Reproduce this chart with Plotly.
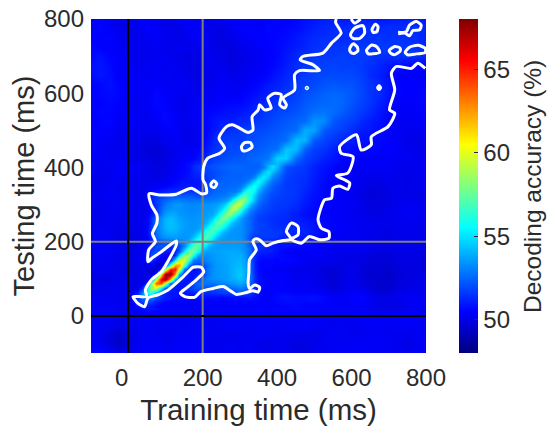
import plotly.graph_objects as go

times = [-100, -75, -50, -25, 0, 25, 50, 75, 100, 125, 150, 175, 200, 225, 250, 275, 300, 325, 350,
         375, 400, 425, 450, 475, 500, 525, 550, 575, 600, 625, 650, 675, 700, 725, 750, 775, 800]
testing_times = times[::-1]

accuracy = [
[50.3,50.5,50.2,50.0,50.1,50.3,50.4,50.2,50.0,50.1,50.4,50.3,50.1,50.0,50.2,50.3,50.5,50.4,50.3,50.5,50.6,50.4,50.6,50.8,50.9,51.1,51.1,50.9,51.0,51.1,51.0,50.9,51.0,51.1,51.0,51.0,50.9],
[50.4,50.6,50.3,50.1,50.0,50.2,50.5,50.3,50.1,50.0,50.2,50.4,50.2,50.1,50.0,50.2,50.4,50.5,50.4,50.6,50.5,50.6,50.7,50.9,51.1,51.2,51.3,51.3,51.4,51.3,51.5,51.3,51.4,51.3,51.5,51.4,51.1],
[50.5,50.4,50.6,50.2,50.1,50.1,50.3,50.4,50.2,50.1,50.1,50.3,50.3,50.0,49.9,50.0,50.3,50.4,50.5,50.5,50.6,50.7,50.9,51.1,51.3,51.4,51.4,51.3,51.3,51.4,51.4,51.5,51.4,51.5,51.4,51.3,51.1],
[50.6,50.5,50.4,50.3,50.2,50.3,50.1,50.3,50.1,50.2,50.2,50.1,50.2,50.1,49.9,49.9,50.1,50.2,50.4,50.5,50.6,50.8,51.0,51.2,51.4,51.5,51.5,51.5,51.6,51.6,51.5,51.6,51.6,51.5,51.6,51.5,51.3],
[50.6,50.8,50.5,50.4,50.2,50.1,50.2,50.2,50.3,50.1,50.0,50.0,50.2,50.2,50.0,49.8,50.0,50.1,50.3,50.4,50.6,50.9,51.2,51.4,51.5,51.6,51.6,51.7,51.6,51.7,51.5,51.4,51.4,51.5,51.4,51.4,51.2],
[50.8,50.9,50.6,50.4,50.3,50.2,50.3,50.3,50.2,50.3,50.1,49.9,50.1,50.2,50.2,49.9,50.0,50.2,50.3,50.5,50.7,51.0,51.3,51.5,51.7,51.7,51.8,51.7,51.7,51.6,51.4,51.2,50.9,50.7,50.6,50.6,50.6],
[50.7,50.9,50.7,50.3,50.4,50.3,50.2,50.4,50.3,50.2,50.2,50.0,50.0,50.1,50.3,50.1,50.1,50.3,50.4,50.6,50.9,51.2,51.4,51.6,51.8,51.9,51.9,51.9,51.9,51.7,51.3,51.1,50.7,50.5,50.5,50.4,50.4],
[50.5,50.6,50.8,50.5,50.3,50.4,50.4,50.4,50.2,50.3,50.3,50.1,50.1,50.2,50.4,50.3,50.2,50.4,50.6,50.9,51.1,51.4,51.6,51.8,51.9,52.1,52.2,52.1,52.1,51.8,51.5,51.2,50.8,50.5,50.5,50.5,50.5],
[50.4,50.6,50.7,50.6,50.4,50.3,50.3,50.6,50.4,50.3,50.2,50.2,50.2,50.3,50.4,50.3,50.4,50.6,50.8,51.1,51.3,51.5,51.7,52.0,52.2,52.4,52.5,52.4,52.2,51.9,51.5,51.3,50.8,50.6,50.4,50.5,50.6],
[50.5,50.5,50.6,50.5,50.3,50.2,50.4,50.6,50.5,50.2,50.1,50.2,50.4,50.4,50.5,50.6,50.6,50.8,51.1,51.3,51.5,51.7,51.9,52.2,52.4,52.5,52.6,52.5,52.1,51.8,51.5,51.1,50.7,50.5,50.4,50.5,50.6],
[50.4,50.6,50.5,50.4,50.4,50.3,50.2,50.5,50.6,50.3,50.1,50.3,50.5,50.6,50.7,50.8,50.9,51.1,51.4,51.6,51.8,51.9,52.1,52.4,52.7,52.8,52.6,52.3,51.9,51.6,51.3,50.9,50.6,50.4,50.3,50.4,50.5],
[50.3,50.5,50.6,50.3,50.4,50.3,50.2,50.3,50.6,50.4,50.2,50.3,50.5,50.8,51.0,51.0,51.2,51.3,51.6,51.8,52.0,52.2,52.4,52.6,53.4,53.2,52.2,51.9,51.7,51.3,51.0,50.8,50.5,50.3,50.3,50.4,50.4],
[50.4,50.5,50.5,50.2,50.3,50.2,50.1,50.2,50.4,50.4,50.1,50.1,50.4,50.8,51.2,51.4,51.6,51.8,51.9,52.0,52.2,52.4,52.6,53.9,53.7,52.2,51.9,51.7,51.3,51.0,50.9,50.7,50.5,50.3,50.2,50.2,50.3],
[50.5,50.4,50.3,50.1,50.2,50.1,49.9,49.9,50.2,50.3,50.1,50.1,50.5,51.1,51.6,51.7,51.7,51.9,52.1,52.3,52.4,52.7,54.2,54.0,52.2,51.8,51.5,51.2,51.0,50.8,50.7,50.6,50.5,50.3,50.1,50.0,50.2],
[50.5,50.3,50.2,50.2,50.1,50.0,49.8,49.7,49.9,50.2,50.3,50.3,50.7,51.3,51.6,51.9,51.9,52.1,52.3,52.5,52.7,54.4,54.2,52.3,51.7,51.5,51.1,50.8,50.7,50.6,50.6,50.5,50.5,50.4,50.2,50.1,50.2],
[50.4,50.3,50.2,50.3,50.2,50.0,49.9,49.8,49.9,50.2,50.4,50.5,51.0,51.6,51.9,52.1,52.2,52.4,52.6,52.8,54.6,54.6,52.6,51.8,51.5,51.1,50.9,50.6,50.5,50.5,50.4,50.4,50.4,50.3,50.3,50.2,50.3],
[50.3,50.2,50.3,50.4,50.3,50.3,50.1,49.9,50.0,50.3,50.6,51.2,51.8,52.1,52.3,52.5,52.5,52.4,52.4,54.1,54.0,52.0,51.7,51.5,51.1,50.8,50.6,50.4,50.3,50.3,50.3,50.3,50.3,50.2,50.1,50.2,50.3],
[50.2,50.1,50.2,50.3,50.2,50.2,50.1,50.0,50.1,50.4,50.7,51.0,51.4,52.0,52.4,52.7,53.0,53.3,54.4,55.8,52.6,51.7,51.5,51.4,51.0,50.7,50.5,50.3,50.3,50.2,50.1,50.1,50.2,50.1,50.0,50.1,50.3],
[50.2,50.1,50.3,50.2,50.1,50.2,50.2,50.3,50.5,50.9,51.3,51.7,51.9,52.3,52.7,53.0,53.5,54.6,56.2,56.4,52.0,51.6,51.5,51.3,50.9,50.6,50.5,50.4,50.3,50.1,49.9,49.9,50.1,50.1,50.0,50.1,50.2],
[50.3,50.2,50.4,50.2,50.1,50.2,50.5,50.8,51.4,52.0,52.2,52.4,52.5,52.8,53.2,54.0,55.2,56.9,57.3,55.0,51.8,51.6,51.5,51.1,50.8,50.6,50.5,50.3,50.2,50.0,49.8,49.8,50.0,50.1,50.1,50.0,50.1],
[50.3,50.1,50.2,50.3,50.2,50.3,50.6,51.4,52.2,53.0,53.2,53.1,53.2,53.4,54.0,55.5,58.1,58.0,55.4,53.2,51.6,51.5,51.3,50.9,50.7,50.5,50.4,50.4,50.3,50.1,49.9,49.9,50.0,50.2,50.3,50.2,50.1],
[50.2,50.1,50.2,50.2,50.1,50.2,50.5,51.5,52.6,53.3,53.4,53.0,53.1,53.7,55.1,57.5,58.4,56.0,53.7,52.3,51.4,51.3,51.0,50.7,50.6,50.5,50.4,50.3,50.2,50.1,50.0,50.0,50.1,50.2,50.3,50.3,50.2],
[50.1,50.2,50.2,50.1,50.1,50.1,50.4,51.3,52.5,53.5,53.4,53.2,53.5,54.6,56.9,57.8,56.0,53.9,52.7,52.0,51.3,51.2,51.1,51.0,50.8,50.6,50.5,50.4,50.3,50.2,50.2,50.1,50.1,50.2,50.2,50.1,50.1],
[50.2,50.3,50.2,50.0,50.0,50.1,50.3,50.7,51.9,53.0,53.6,53.8,54.6,56.5,57.3,56.0,54.2,53.0,52.3,51.8,51.6,51.4,51.2,51.2,50.9,50.6,50.4,50.3,50.3,50.2,50.1,50.1,50.0,50.1,50.2,50.1,50.0],
[50.3,50.4,50.2,50.0,49.9,50.0,50.2,50.3,50.7,51.9,53.5,54.9,56.6,56.8,55.4,54.2,53.5,52.8,52.0,51.4,50.8,50.9,50.8,50.7,50.6,50.4,50.3,50.2,50.2,50.3,50.1,50.0,50.0,50.0,50.1,50.0,50.0],
[50.2,50.4,50.3,50.1,50.0,50.0,50.1,50.0,50.6,52.0,55.2,57.1,57.0,55.0,54.0,53.6,53.4,52.8,51.5,50.9,50.7,50.5,50.4,50.4,50.4,50.3,50.2,50.1,50.1,50.1,50.0,49.9,49.9,50.0,50.0,50.0,49.9],
[50.1,50.3,50.2,50.1,50.0,50.0,49.8,49.5,50.8,55.0,59.5,59.8,56.6,54.4,53.6,53.5,53.7,53.0,51.3,50.7,50.6,50.6,50.5,50.3,50.2,50.2,50.1,50.0,50.0,49.9,49.8,49.7,49.8,49.9,50.0,49.9,49.8],
[50.0,50.2,50.1,50.0,50.0,49.8,49.3,50.5,56.5,66.0,63.3,57.3,54.5,53.6,53.4,53.4,54.0,53.5,51.5,50.5,50.4,50.3,50.1,50.1,50.0,49.8,49.7,49.9,50.1,49.8,49.6,49.7,49.5,49.8,49.9,49.9,49.8],
[49.8,50.0,50.0,50.1,50.1,49.9,50.2,56.0,67.5,63.0,55.6,52.9,52.8,53.0,53.3,53.5,53.9,53.2,51.3,50.6,50.6,50.4,50.2,50.3,50.2,49.9,49.6,50.0,50.1,49.8,49.6,49.6,49.5,49.8,49.9,50.0,50.1],
[50.0,50.1,50.1,50.2,50.1,50.0,54.2,61.5,60.0,54.0,52.0,51.3,51.3,51.6,51.9,52.2,52.9,52.6,51.0,50.6,50.5,50.4,50.3,50.3,50.2,50.0,49.8,50.0,50.2,50.1,49.8,49.6,49.6,49.9,50.0,50.1,50.2],
[50.2,50.3,50.2,50.2,50.0,50.7,53.6,54.0,52.5,51.3,50.9,50.7,50.8,50.7,50.6,50.7,50.7,50.8,50.6,50.5,50.7,50.8,50.7,50.7,50.8,50.6,50.4,50.4,50.5,50.6,50.3,50.0,50.1,50.2,50.3,50.3,50.3],
[50.3,50.4,50.3,50.2,50.1,50.5,50.9,50.8,50.5,50.4,50.3,50.3,50.3,50.4,50.3,50.4,50.4,50.4,50.5,50.4,50.5,50.5,50.6,50.5,50.5,50.4,50.4,50.3,50.4,50.4,50.2,50.0,49.9,50.0,50.2,50.3,50.3],
[50.2,50.3,50.3,50.2,50.1,50.2,50.3,50.3,50.3,50.2,50.2,50.3,50.2,50.3,50.3,50.3,50.4,50.4,50.4,50.3,50.4,50.3,50.4,50.4,50.4,50.3,50.3,50.2,50.3,50.4,50.3,50.3,50.4,50.4,50.4,50.3,50.3],
[50.3,50.3,50.2,50.0,50.1,50.3,50.4,50.2,50.3,50.3,50.2,50.3,50.2,50.2,50.3,50.4,50.3,50.3,50.3,50.4,50.3,50.4,50.4,50.5,50.3,50.3,50.2,50.3,50.2,50.3,50.4,50.4,50.3,50.3,50.4,50.3,50.2],
[50.4,50.2,49.8,49.5,49.9,50.2,50.3,50.2,50.1,50.2,50.3,50.3,50.3,50.2,50.2,50.1,50.2,50.2,50.3,50.3,50.2,50.2,50.1,50.1,50.0,50.2,50.3,50.3,50.2,50.2,50.3,50.3,50.2,50.2,50.1,50.3,50.3],
[50.5,50.2,49.8,49.4,49.9,50.3,50.4,50.4,50.2,50.4,50.4,50.4,50.3,50.1,50.2,50.3,50.2,50.3,50.1,50.0,50.2,50.1,49.9,49.9,50.2,50.3,50.3,50.3,50.3,50.4,50.3,50.4,50.3,50.1,50.0,50.2,50.3],
[50.6,50.8,50.4,50.2,50.2,50.3,50.3,50.4,50.3,50.3,50.5,50.4,50.5,50.3,50.2,50.3,50.2,50.3,50.2,50.1,50.2,50.2,50.0,49.9,50.1,50.2,50.3,50.4,50.3,50.4,50.3,50.2,50.3,50.3,50.2,50.3,50.4],
]
assert len(accuracy) == 37 and all(len(r) == 37 for r in accuracy), [len(r) for r in accuracy]

# finer reading of the diagonal part of the map (training and testing 25 to 400 ms)
detail_times = [25, 37.5, 50, 62.5, 75, 87.5, 100, 112.5, 125, 137.5, 150, 162.5, 175, 187.5, 200, 212.5,
                225, 237.5, 250, 262.5, 275, 287.5, 300, 312.5, 325, 337.5, 350, 362.5, 375, 387.5, 400]
detail_accuracy = [
[50.6,51.0,51.0,50.8,50.6,50.5,50.5,50.4,50.4,50.3,50.3,50.3,50.3,50.3,50.3,50.4,50.4,50.4,50.3,50.4,50.4,50.4,50.4,50.4,50.4,50.4,50.5,50.5,50.4,50.5,50.5],
[51.2,51.7,51.9,51.4,51.0,50.7,50.5,50.5,50.4,50.4,50.4,50.4,50.4,50.4,50.4,50.4,50.4,50.4,50.4,50.4,50.5,50.5,50.5,50.5,50.5,50.5,50.5,50.5,50.5,50.5,50.6],
[51.4,52.6,53.3,52.9,52.0,51.4,51.1,50.9,50.8,50.7,50.7,50.7,50.8,50.8,50.8,50.7,50.7,50.7,50.6,50.7,50.7,50.7,50.7,50.8,50.8,50.7,50.6,50.5,50.5,50.6,50.7],
[51.0,53.3,56.0,56.0,53.5,51.4,51.0,50.9,50.8,50.7,50.8,50.9,51.0,51.1,51.2,51.2,51.3,51.4,51.4,51.5,51.7,51.8,51.9,51.8,51.5,51.0,50.7,50.5,50.5,50.5,50.6],
[50.2,51.2,55.0,59.0,59.2,55.2,52.0,51.1,50.9,50.9,51.1,51.6,51.9,52.1,52.0,52.0,52.0,52.0,52.1,52.3,52.5,52.7,52.9,52.8,52.3,51.4,50.8,50.6,50.5,50.5,50.5],
[50.0,49.9,51.5,58.0,63.8,64.2,59.0,52.8,51.2,50.9,50.8,51.0,51.9,52.6,52.8,52.8,52.8,52.9,53.1,53.2,53.4,53.6,53.9,53.5,52.7,51.4,50.8,50.6,50.5,50.4,50.4],
[50.0,50.0,49.8,51.5,60.0,66.0,67.8,62.0,54.0,51.6,51.0,50.9,51.0,51.8,52.6,53.1,53.3,53.4,53.5,53.6,53.8,54.0,54.3,53.8,52.9,51.4,50.7,50.6,50.6,50.5,50.5],
[50.0,50.0,49.9,49.7,51.5,61.0,67.8,67.8,62.0,53.2,51.2,50.9,50.9,51.0,51.6,52.8,53.3,53.5,53.6,53.7,53.9,54.2,54.5,54.0,53.0,51.4,50.7,50.6,50.5,50.5,50.4],
[50.0,50.0,49.9,49.7,49.5,51.2,59.0,65.0,65.2,59.5,52.5,51.0,50.8,50.9,51.5,52.8,53.3,53.5,53.6,53.7,53.9,54.2,54.4,54.0,52.9,51.3,50.6,50.5,50.5,50.4,50.3],
[50.1,50.0,50.1,50.3,49.6,49.8,51.2,57.0,62.5,62.5,57.5,52.5,51.7,51.8,51.9,52.6,53.2,53.5,53.6,53.7,53.9,54.1,54.2,53.8,52.8,51.2,50.6,50.5,50.6,50.5,50.4],
[50.2,50.3,51.0,51.4,50.5,50.0,50.0,51.2,55.5,59.8,59.8,56.0,52.8,52.6,52.8,53.2,53.4,53.6,53.7,53.8,53.9,54.0,54.1,53.7,52.8,51.2,50.7,50.6,50.6,50.6,50.5],
[50.2,50.3,51.0,52.0,51.5,50.6,50.1,50.2,51.5,55.0,58.5,58.5,55.8,53.5,53.2,53.3,53.5,53.6,53.7,53.8,53.9,53.9,53.9,53.6,52.7,51.3,50.9,50.8,50.8,50.8,50.7],
[50.1,50.3,50.8,51.7,52.0,51.5,51.0,50.9,51.2,52.2,55.2,57.8,57.8,55.8,54.2,53.6,53.6,53.7,53.7,53.8,53.8,53.8,53.7,53.4,52.7,51.6,51.2,51.1,51.0,50.9,50.8],
[50.0,50.2,50.6,51.3,52.0,52.3,51.9,51.2,51.3,51.9,53.2,55.4,57.2,57.3,55.5,54.3,53.7,53.6,53.6,53.6,53.6,53.6,53.5,53.3,52.5,51.9,51.5,51.3,51.1,51.0,50.9],
[50.0,50.1,50.4,50.9,51.5,52.0,52.3,52.5,52.4,52.7,53.3,54.2,55.5,56.9,56.9,55.5,54.3,53.7,53.5,53.5,53.5,53.5,53.4,53.2,52.4,51.7,51.4,51.2,51.0,50.9,50.8],
[50.0,50.1,50.4,51.3,52.5,53.2,53.4,53.5,53.6,53.5,53.4,53.6,54.3,55.4,56.8,56.9,55.5,54.4,53.7,53.5,53.4,53.4,53.3,53.0,52.1,51.5,51.6,51.6,51.6,51.6,51.5],
[50.0,50.2,50.7,51.5,52.7,53.4,53.8,54.0,53.9,53.7,53.5,53.5,53.6,54.3,55.4,56.8,56.8,55.5,54.4,53.7,53.5,53.4,53.3,53.0,52.4,51.9,51.7,51.7,51.7,51.6,51.6],
[50.1,50.2,50.6,51.6,52.8,53.5,54.0,54.2,54.1,53.8,53.6,53.5,53.5,53.6,54.3,55.5,56.9,56.9,55.6,54.5,53.7,53.4,53.3,53.0,52.5,52.0,51.8,51.7,51.6,51.5,51.4],
[50.1,50.2,50.5,51.4,52.9,53.5,54.1,54.3,54.1,53.8,53.6,53.5,53.4,53.5,53.6,54.4,55.6,57.2,57.2,55.8,54.6,53.8,53.4,53.0,52.5,52.0,51.8,51.7,51.5,51.4,51.3],
[50.1,50.2,50.5,51.4,52.7,53.4,54.0,54.2,54.0,53.7,53.5,53.4,53.4,53.5,53.6,53.8,54.5,55.8,57.6,57.6,56.0,54.7,53.6,53.1,52.5,52.0,51.7,51.6,51.5,51.4,51.3],
[50.1,50.1,50.3,50.9,51.7,52.9,53.6,53.9,53.8,53.5,53.4,53.3,53.3,53.4,53.5,53.6,53.8,54.6,56.1,58.2,58.2,56.3,54.8,53.5,52.8,52.2,51.9,51.7,51.6,51.5,51.4],
[50.1,50.1,50.2,50.7,51.5,52.6,53.2,53.4,53.5,53.4,53.3,53.2,53.2,53.3,53.4,53.5,53.6,53.9,54.8,56.4,58.9,58.9,56.6,54.8,53.3,52.6,52.1,51.9,51.8,51.6,51.5],
[50.1,50.1,50.2,50.9,51.6,52.3,52.9,53.2,53.5,53.5,53.3,53.2,53.2,53.3,53.4,53.4,53.5,53.6,54.0,54.9,56.8,59.3,59.2,56.6,54.6,53.2,52.6,52.1,51.9,51.7,51.6],
[50.1,50.1,50.2,51.0,51.7,52.2,52.5,52.8,53.0,53.0,52.9,52.8,52.8,52.8,52.9,52.9,53.0,53.1,53.3,53.6,54.6,56.7,58.6,58.0,55.9,54.1,52.9,52.4,52.0,51.8,51.7],
[50.1,50.2,50.3,51.3,51.5,51.7,51.9,52.1,52.2,52.2,52.2,52.2,52.1,52.0,52.1,52.4,52.6,52.7,52.8,52.9,53.2,53.9,55.8,57.2,56.2,54.6,53.3,52.6,52.2,51.9,51.8],
[50.1,50.2,50.3,50.6,50.8,51.0,51.1,51.3,51.3,51.3,51.4,51.5,51.6,51.5,51.4,52.0,52.4,52.5,52.6,52.7,52.8,52.9,53.6,55.4,56.5,55.4,53.9,53.0,52.4,52.1,51.9],
[50.0,50.1,50.2,50.3,50.3,50.4,50.5,50.7,50.8,50.9,51.0,51.0,50.9,50.9,51.1,51.7,52.2,52.4,52.5,52.5,52.6,52.6,52.8,53.5,55.0,55.9,54.8,53.5,52.8,52.3,52.0],
[50.1,50.1,50.1,50.1,50.1,50.2,50.3,50.4,50.6,50.7,50.8,50.8,50.8,50.9,51.1,51.6,52.1,52.3,52.4,52.4,52.5,52.5,52.5,52.7,53.3,54.7,55.6,54.6,53.4,52.7,52.3],
[50.2,50.1,50.0,50.0,50.0,50.1,50.1,50.3,50.4,50.6,50.7,50.9,51.0,51.1,51.3,51.6,51.9,52.1,52.3,52.4,52.4,52.4,52.4,52.5,52.6,53.1,54.5,55.3,54.4,53.2,52.6],
[50.3,50.2,50.1,50.0,49.9,50.0,50.0,50.2,50.4,50.5,50.6,50.8,51.1,51.3,51.5,51.7,51.9,52.0,52.2,52.3,52.4,52.4,52.4,52.4,52.4,52.5,53.0,54.3,55.1,54.2,53.1],
[50.3,50.2,50.1,50.0,49.9,49.9,50.0,50.1,50.3,50.5,50.6,50.8,51.2,51.5,51.8,51.9,52.1,52.2,52.3,52.4,52.5,52.5,52.5,52.4,52.4,52.4,52.4,52.9,54.1,54.9,54.0],
]
assert len(detail_accuracy) == 31 and all(len(r) == 31 for r in detail_accuracy), [len(r) for r in detail_accuracy]

# significance boundary, in ms (training time, testing time)
boundary_train = [559,557,572,546,523,469,462,496,514,460,447,447,416,425,420,407,411,393,375,384,366,353,
    349,333,335,322,299,280,264,244,259,246,214,203,201,
    208,210,196,170,129,84,56,62,77,77,65,
    66,73,55,53,62,89,129,129,116,89,62,46,49,13,26,44,53,80,107,143,170,
    174,196,203,183,156,140,152,178,196,228,255,277,290,317,335,
    349,353,340,326,322,324,326,344,335,340,
    353,371,389,416,438,425,438,456,456,438,465,487,514,539,539,519,510,528,546,550,568,590,
    595,581,559,590,604,572,568,613,626,653,653,698,716,702,716,707,720,761,778,798]
boundary_test = [800,791,762,735,708,699,690,677,661,661,650,609,587,569,560,569,596,600,587,560,555,569,
    555,537,501,494,506,515,510,479,452,438,425,403,367,
    353,331,329,344,328,326,329,299,272,250,223,
    218,200,178,146,154,173,202,191,164,119,97,70,52,52,34,25,48,57,70,101,128,
    131,131,119,97,75,61,52,50,66,74,79,66,58,63,68,
    64,77,83,74,88,115,151,178,200,207,
    205,189,196,203,207,227,250,241,218,207,196,214,205,209,227,236,259,313,317,344,350,341,
    358,367,378,385,429,438,456,488,447,461,483,510,546,555,609,654,672,667,681,667]

islands = [
    ([304,313,328,333,322,308,304], [456,467,467,456,447,445,456]),
    ([222,230,238,232,224,222], [355,364,356,346,348,355]),
    ([599,608,622,624], [800,789,798,800]),
    ([597,608,631,635,622,604,597], [757,775,782,762,748,748,757]),
    ([655,664,671,668,658,655], [772,786,780,766,764,772]),
    ([595,604,615,617,606,597,595], [720,733,725,714,707,711,720]),
    ([640,654,668,676,655,645,640], [715,730,725,710,706,706,715]),
    ([701,716,730,731,716,705,701], [715,726,722,714,704,708,715]),
    ([744,756,778,798,798,774,752,744], [710,724,729,721,710,706,703,710]),
    ([725,747,756,774,787,783,765,756,743,725], [764,766,784,793,784,771,769,755,762,760]),
    ([670,674,678,674,670], [615,620,615,610,615]),
    ([478,480,482,480,478], [614,616,614,612,614]),
]

grey_time = 200
black_time = 0
axis_min, axis_max = -100, 800
tick_vals = [0, 200, 400, 600, 800]
x_tick_text = ["0\u00a0\u00a0", "200", "400", "600", "800"]
y_tick_text = ["0", "200", "400", "600", "800"]
cbar_ticks = [50, 55, 60, 65]
jet = [[0, "rgb(0,0,128)"], [0.125, "rgb(0,0,255)"], [0.375, "rgb(0,255,255)"],
       [0.625, "rgb(255,255,0)"], [0.875, "rgb(255,0,0)"], [1, "rgb(128,0,0)"]]
FONT = "Liberation Sans"
INK = "#2b2b2b"

fig = go.Figure()
fig.add_trace(go.Heatmap(
    x=times, y=testing_times, z=accuracy, zmin=48, zmax=68, colorscale=jet, zsmooth="best",
    hoverinfo="skip",
    colorbar=dict(
        x=368 / 335, xanchor="left", xpad=0, ypad=0, y=0.5, yanchor="middle", len=1, lenmode="fraction",
        thickness=19, thicknessmode="pixels", outlinewidth=0,
        tickvals=cbar_ticks, ticks="inside", ticklen=4, tickcolor=INK, tickwidth=1,
        tickfont=dict(family=FONT, size=24, color=INK),
    ),
))
fig.add_trace(go.Heatmap(
    x=detail_times, y=detail_times, z=detail_accuracy, zmin=48, zmax=68, colorscale=jet, zsmooth="best",
    showscale=False, hoverinfo="skip",
))
for t, col in ((grey_time, "#808080"), (black_time, "#000000")):
    fig.add_trace(go.Scatter(x=[t, t], y=[axis_min, axis_max], mode="lines", line=dict(color=col, width=2),
                             showlegend=False, hoverinfo="skip"))
    fig.add_trace(go.Scatter(x=[axis_min, axis_max], y=[t, t], mode="lines", line=dict(color=col, width=2),
                             showlegend=False, hoverinfo="skip"))
line = dict(color="white", width=3, shape="spline", smoothing=0.7)
fig.add_trace(go.Scatter(x=boundary_train, y=boundary_test, mode="lines", line=line, showlegend=False, hoverinfo="skip"))
for ix, iy in islands:
    fig.add_trace(go.Scatter(x=ix, y=iy, mode="lines", line=line, showlegend=False, hoverinfo="skip"))

axis_common = dict(range=[axis_min, axis_max], tickvals=tick_vals, showgrid=False, zeroline=False, showline=False,
                   ticks="", tickfont=dict(family=FONT, size=24, color=INK))
fig.update_layout(
    width=548, height=426, margin=dict(l=91, r=122, t=19, b=73, autoexpand=False),
    paper_bgcolor="white", plot_bgcolor="white",
    xaxis=dict(**axis_common, ticktext=x_tick_text, ticklabelstandoff=8,
               title=dict(text="Training time (ms)", font=dict(family=FONT, size=29.5, color=INK), standoff=9)),
    yaxis=dict(**axis_common, ticktext=y_tick_text, ticklabelstandoff=6,
               title=dict(text="Testing time (ms)", font=dict(family=FONT, size=29, color=INK), standoff=0)),
    annotations=[dict(text="Decoding accuracy (%)", textangle=-90, xref="paper", yref="paper",
                      x=441 / 335, y=0.497, xanchor="center", yanchor="middle", showarrow=False,
                      font=dict(family=FONT, size=24.5, color=INK))],
)
fig.write_html("out.html", config=dict(displayModeBar=False),
               post_script="document.body.style.margin='0';document.documentElement.style.overflow='hidden';")
